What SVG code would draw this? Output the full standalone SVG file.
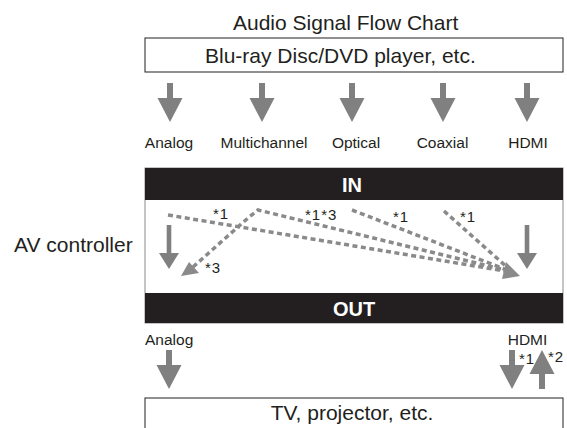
<svg xmlns="http://www.w3.org/2000/svg" width="567" height="428" viewBox="0 0 567 428">
<style>
text{font-family:"Liberation Sans",Arial,sans-serif;fill:#231f20}
.big{font-size:21px}
.lab{font-size:15.5px}
.note{font-size:15px;letter-spacing:1px}
.bar{fill:#231f20}
.barT{font-size:20px;font-weight:bold;fill:#fff;text-anchor:middle}
.box{fill:#fff;stroke:#231f20;stroke-width:1}
.arr{fill:#808080}
.dash{fill:none;stroke:#8a8a8a;stroke-width:3.5;stroke-dasharray:5 3.5}
.head{fill:#8a8a8a}
</style>
<defs>
<path id="bigDown" d="M-3,0H3V15H12.5L0,39L-12.5,15H-3Z"/>
<path id="smDown" d="M-2.3,0H2.3V28H10L0,44L-10,28H-2.3Z"/>
</defs>
<text class="big" x="233" y="30">Audio Signal Flow Chart</text>
<g id="source">
<rect class="box" x="145" y="38" width="418" height="34"/>
<text class="big" x="205" y="63">Blu-ray Disc/DVD player, etc.</text>
</g>
<g id="inputs" class="arr">
<use href="#bigDown" x="170" y="83"/>
<use href="#bigDown" x="262" y="83"/>
<use href="#bigDown" x="352" y="83"/>
<use href="#bigDown" x="443" y="83"/>
<use href="#bigDown" x="527" y="83"/>
</g>
<g id="inputLabels" class="lab" text-anchor="middle">
<text x="169" y="148">Analog</text>
<text x="264" y="148">Multichannel</text>
<text x="356" y="148">Optical</text>
<text x="442.5" y="148">Coaxial</text>
<text x="528" y="148">HDMI</text>
</g>
<text class="big" x="14" y="252">AV controller</text>
<g id="avcontroller">
<rect x="145" y="168" width="418" height="155" fill="#fff" stroke="#8a8a8a" stroke-width="1"/>
<rect class="bar" x="145" y="168" width="418" height="32"/>
<text class="barT" x="352" y="192">IN</text>
<rect class="bar" x="145" y="293" width="418" height="30"/>
<text class="barT" x="354" y="316">OUT</text>
</g>
<g id="connectors">
<g class="arr">
<use href="#smDown" x="169" y="225"/>
<use href="#smDown" x="527" y="225"/>
</g>
<path class="dash" d="M168,215L505,271"/>
<path class="dash" d="M193,267L248,218L258,210L505,270"/>
<path class="dash" d="M352,210L507,270"/>
<path class="dash" d="M444,211L508,268"/>
<polygon class="head" points="520,276 506,262 502,279"/>
<polygon class="head" points="181,276 189,262 199,273"/>
</g>
<g id="notes" class="note">
<text x="213" y="219">*1</text>
<text x="305" y="220">*1*3</text>
<text x="393" y="222">*1</text>
<text x="460" y="222">*1</text>
<text x="205" y="273">*3</text>
</g>
<g id="outputs">
<text class="lab" x="145" y="345">Analog</text>
<text class="lab" x="527.5" y="345" text-anchor="middle">HDMI</text>
<g class="arr">
<use href="#bigDown" x="169" y="350"/>
<use href="#bigDown" x="512" y="350"/>
<use href="#bigDown" transform="translate(542,389) scale(1,-1)"/>
</g>
<text class="note" x="519" y="364">*1</text>
<text class="note" x="548" y="362">*2</text>
</g>
<g id="display">
<rect class="box" x="145" y="398" width="418" height="40"/>
<text class="big" x="352" y="420" text-anchor="middle">TV, projector, etc.</text>
</g>
</svg>
